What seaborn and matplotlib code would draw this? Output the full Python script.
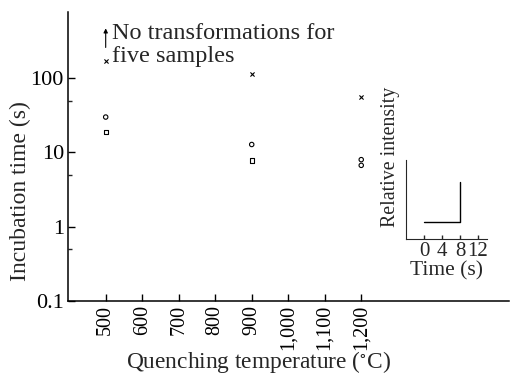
import numpy as np
import pandas as pd
import matplotlib
matplotlib.use("Agg")
import matplotlib.pyplot as plt
import seaborn as sns

# ======== data ========

temp_ticks = [500, 600, 700, 800, 900, 1000, 1100, 1200]
temp_labels = ["500", "600", "700", "800", "900", "1,000", "1,100", "1,200"]

# incubation times (s) per marker type
circle_temp = [500, 900, 1200, 1200]
circle_time = [30, 12.8, 8.0, 6.7]
square_temp = [500, 900]
square_time = [19, 7.8]
cross_temp = [500, 900, 1200]
cross_time = [170, 113, 56]

# arrow for "no transformation" at 500 C
arrow_temp = 500
arrow_from = 260
arrow_to = 470

y_ticks = [0.1, 1, 10, 100]
y_labels = ["0.1", "1", "10", "100"]
y_minor = [0.5, 5, 50]

# inset: relative intensity vs time
inset_time = [0, 8, 8]
inset_intensity = [0.22, 0.22, 0.72]
inset_ticks = [0, 4, 8, 12]

# ======== style ========

sns.set_style("ticks")
plt.rcParams["font.family"] = ["Liberation Serif", "DejaVu Serif"]
plt.rcParams["mathtext.fontset"] = "stix"
fs_tick = 16
fs_label = 16.8
fs_inset = 15

fig = plt.figure(figsize=(5.12, 3.77), dpi=100)
ax = fig.add_axes([0.133, 0.202, 0.862, 0.766])

sns.scatterplot(x=circle_temp, y=circle_time, marker="o", s=10,
                facecolor="none", edgecolor="black", linewidth=0.8, ax=ax)
sns.scatterplot(x=square_temp, y=square_time, marker="s", s=9,
                facecolor="none", edgecolor="black", linewidth=0.8, ax=ax)
sns.scatterplot(x=cross_temp, y=cross_time, marker="x", s=9,
                color="black", linewidth=0.8, ax=ax)

ax.set_yscale("log")
ax.set_ylim(0.1, 780)
ax.set_xlim(397, 1606)

ax.set_yticks(y_ticks)
ax.set_yticklabels(y_labels, fontsize=fs_tick)
ax.set_yticks(y_minor, minor=True)
ax.set_yticklabels([], minor=True)
ax.set_xticks(temp_ticks)
ax.set_xticklabels(temp_labels, rotation=90, fontsize=14.5)
ax.tick_params(axis="both", which="major", direction="in", length=5, width=1, pad=3, colors="black")
ax.tick_params(axis="y", which="minor", direction="in", length=3, width=1)
ax.tick_params(axis="x", which="minor", bottom=False)

for s in ["top", "right"]:
    ax.spines[s].set_visible(False)
for s in ["left", "bottom"]:
    ax.spines[s].set_linewidth(1.1)
    ax.spines[s].set_color("black")

ax.set_ylabel("Incubation time (s)", fontsize=17)
ax.yaxis.set_label_coords(-0.083, 0.38)
ax.set_xlabel("Quenching temperature ($^{\\circ}$C)", fontsize=fs_label)
ax.xaxis.set_label_coords(0.432, -0.166)

ax.annotate("", xy=(arrow_temp, arrow_to), xytext=(arrow_temp, arrow_from),
            arrowprops=dict(arrowstyle="-|>", color="black", lw=0.8,
                            mutation_scale=6, shrinkA=0, shrinkB=0))
ax.text(518, 142, "No transformations for\nfive samples", fontsize=17.5,
        ha="left", va="bottom", linespacing=1.12)

# ---- inset ----
ins = fig.add_axes([0.793, 0.366, 0.158, 0.21])
sns.lineplot(x=inset_time, y=inset_intensity, estimator=None, sort=False,
             color="black", linewidth=1, ax=ins)
ins.set_xlim(-4, 14)
ins.set_ylim(0, 1)
ins.set_xticks(inset_ticks)
ins.set_xticklabels([str(t) for t in inset_ticks], fontsize=fs_inset)
ins.set_yticks([])
ins.tick_params(axis="x", direction="in", length=3, width=1, pad=2)
ins.patch.set_alpha(0)
for s in ["top", "right"]:
    ins.spines[s].set_visible(False)
ins.set_xlabel("Time (s)", fontsize=15.5, labelpad=0)
ins.set_ylabel("Relative intensity", fontsize=14.3)
ins.yaxis.set_label_coords(-0.075, 1.04)

fig.savefig("out.png", dpi=100)
